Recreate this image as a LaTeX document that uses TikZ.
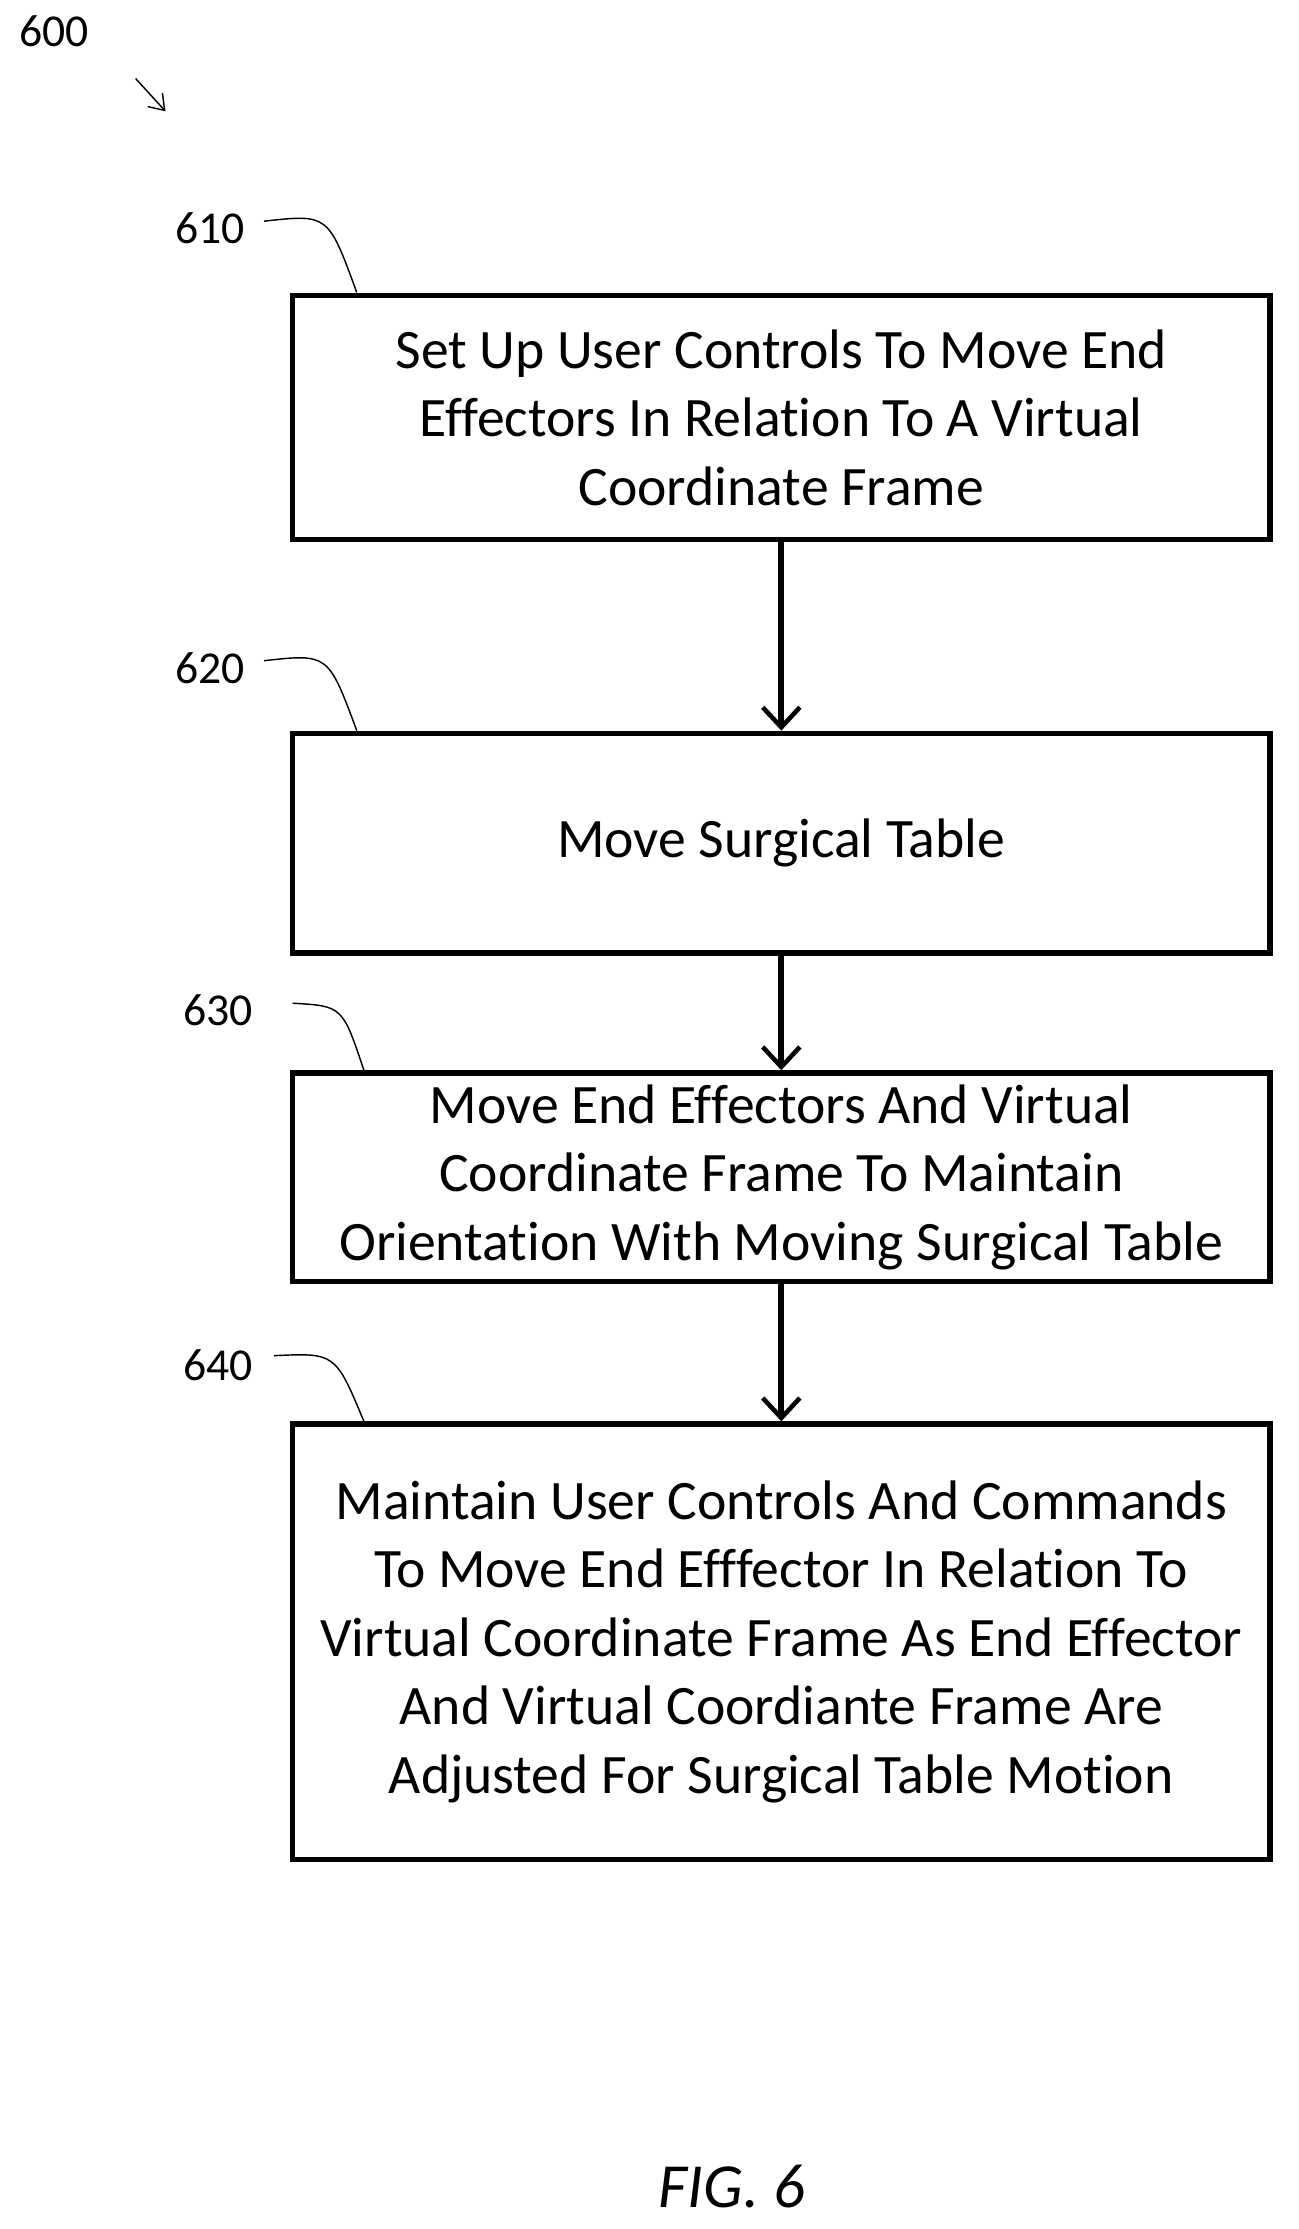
\documentclass[tikz,border=0pt]{standalone}
\usepackage{fontspec}
\setmainfont[Ligatures=NoCommon]{Carlito}
\usetikzlibrary{arrows.meta}
\tikzset{
  stepbox/.style={draw,line width=2pt,minimum width=342.5pt,align=center,font=\fontsize{19.5}{24}\selectfont},
  flow/.style={line width=2pt,-{Straight Barb[length=7pt,width=13pt,line width=1.6pt]}},
  ref/.style={font=\fontsize{16}{18}\selectfont},
  lead/.style={line width=0.5pt}
}
\begin{document}
\begin{tikzpicture}[x=0.5pt,y=-0.5pt]
\useasboundingbox (0,0) rectangle (910,1562);

\node[stepbox,minimum height=85.5pt] (s610) at (547.5,292.5) {Set Up User Controls To Move End\\Effectors In Relation To A Virtual\\Coordinate Frame};
\node[stepbox,minimum height=77pt] (s620) at (547.5,591) {Move Surgical Table};
\node[stepbox,minimum height=73pt] (s630) at (547.5,825) {Move End Effectors And Virtual\\Coordinate Frame To Maintain\\Orientation With Moving Surgical Table};
\node[stepbox,minimum height=152.5pt] (s640) at (547.5,1150.5) {Maintain User Controls And Commands\\To Move End Efffector In Relation To\\Virtual Coordinate Frame As End Effector\\And Virtual Coordiante Frame Are\\Adjusted For Surgical Table Motion};

\draw[flow] (s610) -- (s620);
\draw[flow] (s620) -- (s630);
\draw[flow] (s630) -- (s640);

% reference numerals
\node[ref] (n610) at (147,160) {610};
\node[ref] (n620) at (147,468) {620};
\node[ref] (n630) at (153,708) {630};
\node[ref] (n640) at (153,957) {640};
\draw[lead] (185,155) .. controls (230,150) .. (250,205);
\draw[lead] (185,463) .. controls (230,458) .. (250,512);
\draw[lead] (205,703) .. controls (240,705) .. (255,750);
\draw[lead] (192,950) .. controls (235,948) .. (255,996);

\node[ref] (n600) at (38,22) {600};
\draw[lead,-{Straight Barb[length=5pt,width=7pt]}] (95,55) -- (116,78);

\node[font=\fontsize{22}{26}\selectfont\itshape] (fig) at (513,1532) {FIG. 6};
\end{tikzpicture}
\end{document}
